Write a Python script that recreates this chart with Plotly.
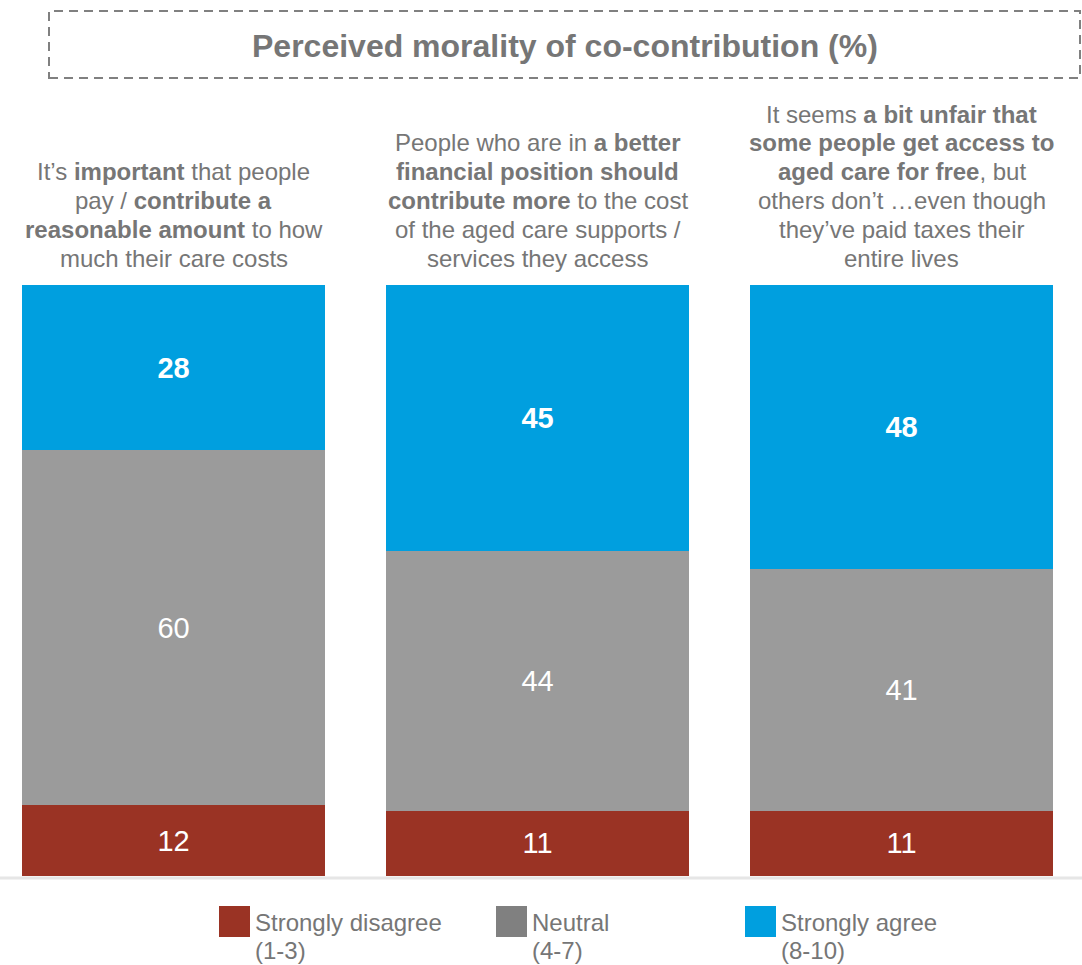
import plotly.graph_objects as go

W, H = 1082, 965

# Statements shown above each stacked bar (one entry per bar, lines split by <br>)
categories = [
    "It’s <b>important</b> that people<br>pay / <b>contribute a</b><br><b>reasonable amount</b> to how<br>much their care costs",
    "People who are in <b>a better</b><br><b>financial position should</b><br><b>contribute more</b> to the cost<br>of the aged care supports /<br>services they access",
    "It seems <b>a bit unfair that</b><br><b>some people get access to</b><br><b>aged care for free</b>, but<br>others don’t …even though<br>they’ve paid taxes their<br>entire lives",
]

# Response shares (%), bottom to top of each stack
strongly_disagree = [12, 11, 11]
neutral = [60, 44, 41]
strongly_agree = [28, 45, 48]

series_names = ["Strongly disagree<br>(1-3)", "Neutral<br>(4-7)", "Strongly agree<br>(8-10)"]
bar_colors = ["#9A3324", "#9B9B9B", "#009FDF"]
legend_colors = ["#9A3324", "#808080", "#009FDF"]
value_templates = ["%{y}", "%{y}", "<b>%{y}</b>"]

title_text = "Perceived morality of co-contribution (%)"

FONT = "Liberation Sans, Arial, sans-serif"
TEXT_GREY = "#767676"


def px_x(x):
    return x / W


def px_y(y):
    return 1 - y / H


# bar geometry: centres 364 px apart, first centre at 173.5 px, bars 303 px wide
step = 364.0
first_centre = 173.5
x_lo = -first_centre / step
x_hi = x_lo + W / step
bar_width = 303.0 / step

fig = go.Figure()
for name, vals, color, tmpl in zip(series_names,
                                   [strongly_disagree, neutral, strongly_agree],
                                   bar_colors, value_templates):
    fig.add_trace(go.Bar(
        x=list(range(len(categories))),
        y=vals,
        name=name.replace("<br>", " "),
        marker=dict(color=color, line=dict(width=0)),
        width=bar_width,
        texttemplate=tmpl,
        textposition="inside",
        insidetextanchor="middle",
        textangle=0,
        textfont=dict(family=FONT, size=29, color="white"),
        hoverinfo="skip",
        showlegend=False,
    ))

annotations = []
shapes = []

# Dashed title box and title
shapes.append(dict(type="rect", xref="paper", yref="paper",
                   x0=px_x(49), x1=px_x(1080), y0=px_y(78), y1=px_y(11),
                   line=dict(color="#808080", width=2, dash="9px,6px")))
annotations.append(dict(text=f"<b>{title_text}</b>", xref="paper", yref="paper",
                        x=px_x(565), y=px_y(46), xanchor="center", yanchor="middle",
                        showarrow=False,
                        font=dict(family=FONT, size=32, color=TEXT_GREY)))

# Statement labels, bottom-aligned above each bar
line_gap = 28.8
last_line_y = 258
for i, label in enumerate(categories):
    lines = label.split("<br>")
    n = len(lines)
    cx = first_centre + i * step
    for j, line in enumerate(lines):
        cy = last_line_y - (n - 1 - j) * line_gap
        annotations.append(dict(text=line, xref="paper", yref="paper",
                                x=px_x(cx), y=px_y(cy), xanchor="center",
                                yanchor="middle", showarrow=False,
                                font=dict(family=FONT, size=24, color=TEXT_GREY)))

# Light baseline under the bars
shapes.append(dict(type="line", xref="paper", yref="paper",
                   x0=0, x1=1, y0=px_y(878), y1=px_y(878),
                   line=dict(color="#E6E6E6", width=3)))

# Legend: coloured squares with two-line labels
legend_x = [219, 496, 745]
for name, color, lx in zip(series_names, legend_colors, legend_x):
    shapes.append(dict(type="rect", xref="paper", yref="paper",
                       x0=px_x(lx), x1=px_x(lx + 31), y0=px_y(937), y1=px_y(906),
                       fillcolor=color, line=dict(width=0)))
    for k, part in enumerate(name.split("<br>")):
        annotations.append(dict(text=part, xref="paper", yref="paper",
                                x=px_x(lx + 34), y=px_y(922 + 28.5 * k),
                                xanchor="left", yanchor="middle", showarrow=False,
                                font=dict(family=FONT, size=24, color=TEXT_GREY)))

fig.update_layout(
    width=W, height=H,
    margin=dict(l=0, r=0, t=0, b=0),
    paper_bgcolor="white", plot_bgcolor="white",
    barmode="stack",
    showlegend=False,
    xaxis=dict(range=[x_lo, x_hi], domain=[0, 1], showgrid=False,
               zeroline=False, showticklabels=False, fixedrange=True),
    yaxis=dict(range=[0, 100], domain=[px_y(876), px_y(285)], showgrid=False,
               zeroline=False, showticklabels=False, fixedrange=True),
    annotations=annotations,
    shapes=shapes,
    font=dict(family=FONT),
)

fig.write_html("out.html", config={"displayModeBar": False})
